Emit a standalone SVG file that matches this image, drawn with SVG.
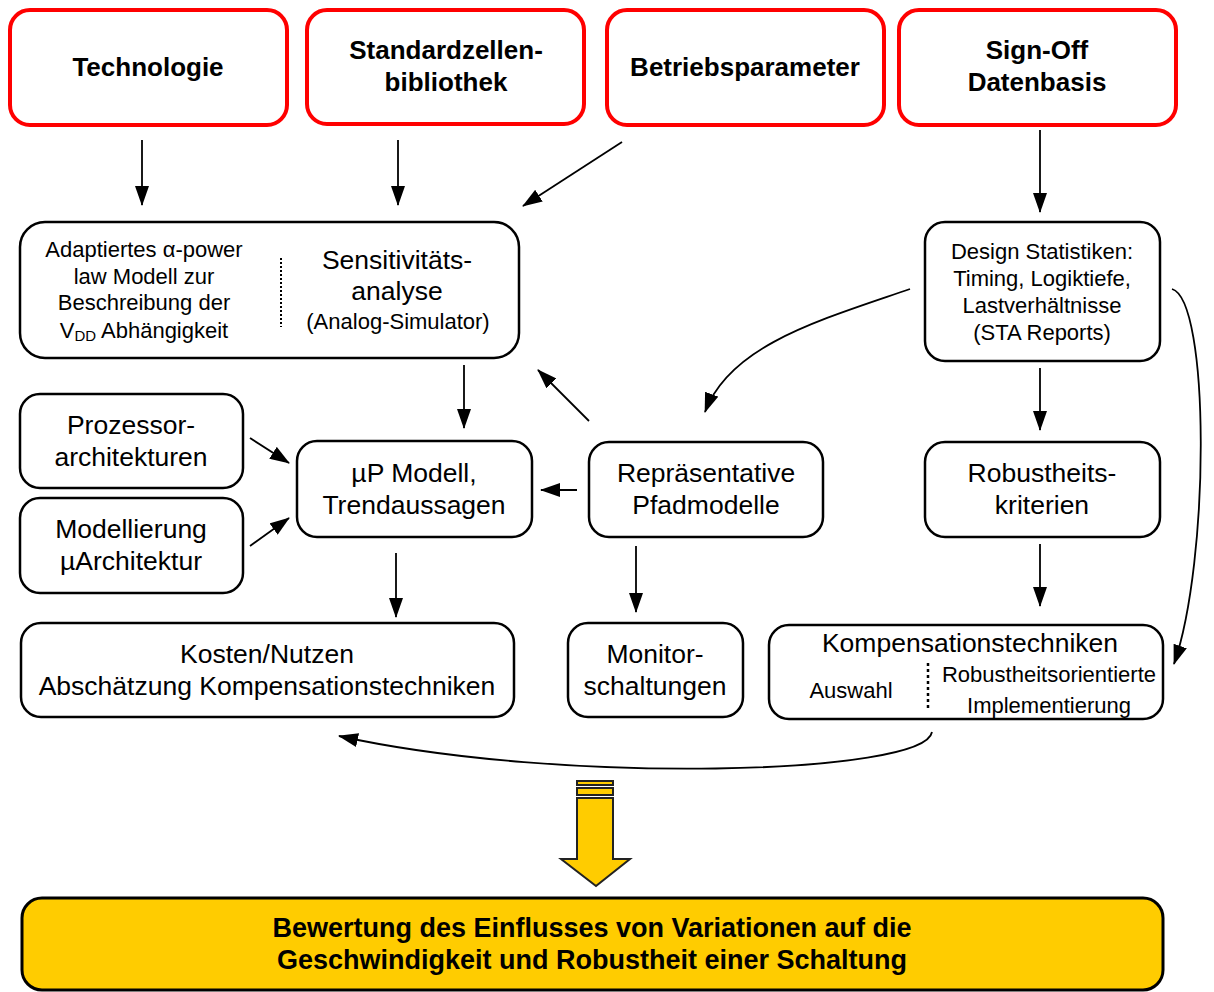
<svg xmlns="http://www.w3.org/2000/svg" width="1214" height="992" viewBox="0 0 1214 992">
<style>
.red{fill:#fff;stroke:#ff0000;stroke-width:4}
.box{fill:#fff;stroke:#000;stroke-width:2.5}
.tb{font-family:"Liberation Sans",Arial,sans-serif;font-weight:bold;font-size:26px;fill:#000;text-anchor:middle}
.t{font-family:"Liberation Sans",Arial,sans-serif;font-size:26.5px;fill:#000;text-anchor:middle}
.ts{font-family:"Liberation Sans",Arial,sans-serif;font-size:22px;fill:#000;text-anchor:middle}
.c{fill:none;stroke:#000;stroke-width:1.8;marker-end:url(#ah)}
.dot{stroke:#000;stroke-width:2;stroke-dasharray:2,2}
</style>
<defs>
<marker id="ah" markerUnits="userSpaceOnUse" markerWidth="20" markerHeight="14" refX="19" refY="7" orient="auto">
<path d="M0,0 L20,7 L0,14 z" fill="#000"/>
</marker>
</defs>
<rect width="1214" height="992" fill="#fff"/>

<g id="technologie"><rect class="red" x="10" y="10" width="277" height="115" rx="20"/><text class="tb" x="148" y="76">Technologie</text></g>
<g id="standardzellen"><rect class="red" x="307" y="10" width="277" height="114" rx="20"/><text class="tb" x="446" y="59">Standardzellen-</text><text class="tb" x="446" y="91">bibliothek</text></g>
<g id="betriebsparameter"><rect class="red" x="607" y="10" width="277" height="115" rx="20"/><text class="tb" x="745" y="76">Betriebsparameter</text></g>
<g id="signoff"><rect class="red" x="899" y="10" width="277" height="115" rx="20"/><text class="tb" x="1037" y="59">Sign-Off</text><text class="tb" x="1037" y="91">Datenbasis</text></g>

<g id="sensitivitaet"><rect class="box" x="20" y="222" width="499" height="136" rx="25"/>
<text class="ts" x="144" y="257">Adaptiertes α-power</text>
<text class="ts" x="144" y="284">law Modell zur</text>
<text class="ts" x="144" y="310">Beschreibung der</text>
<text class="ts" x="144" y="338">V<tspan font-size="15" dy="3">DD</tspan><tspan dy="-3"> Abhängigkeit</tspan></text>
<line class="dot" x1="281" y1="258" x2="281" y2="327"/>
<text class="t" x="397" y="269">Sensitivitäts-</text>
<text class="t" x="397" y="300">analyse</text>
<text class="ts" x="398" y="329">(Analog-Simulator)</text>
</g>

<g id="designstat"><rect class="box" x="925" y="222" width="235" height="139" rx="20"/>
<text class="ts" x="1042" y="259">Design Statistiken:</text>
<text class="ts" x="1042" y="286">Timing, Logiktiefe,</text>
<text class="ts" x="1042" y="313">Lastverhältnisse</text>
<text class="ts" x="1042" y="340">(STA Reports)</text>
</g>

<g id="prozessor"><rect class="box" x="20" y="394" width="223" height="94" rx="20"/><text class="t" x="131" y="434">Prozessor-</text><text class="t" x="131" y="466">architekturen</text></g>
<g id="modellierung"><rect class="box" x="20" y="498" width="223" height="95" rx="20"/><text class="t" x="131" y="538">Modellierung</text><text class="t" x="131" y="570">µArchitektur</text></g>
<g id="upmodell"><rect class="box" x="297" y="441" width="235" height="96" rx="20"/><text class="t" x="414" y="482">µP Modell,</text><text class="t" x="414" y="514">Trendaussagen</text></g>
<g id="pfadmodelle"><rect class="box" x="589" y="442" width="234" height="95" rx="20"/><text class="t" x="706" y="482">Repräsentative</text><text class="t" x="706" y="514">Pfadmodelle</text></g>
<g id="robustheit"><rect class="box" x="925" y="442" width="235" height="95" rx="20"/><text class="t" x="1042" y="482">Robustheits-</text><text class="t" x="1042" y="514">kriterien</text></g>

<g id="kosten"><rect class="box" x="21" y="623" width="493" height="94" rx="20"/><text class="t" x="267" y="663">Kosten/Nutzen</text><text class="t" x="267" y="695">Abschätzung Kompensationstechniken</text></g>
<g id="monitor"><rect class="box" x="568" y="623" width="175" height="94" rx="20"/><text class="t" x="655" y="663">Monitor-</text><text class="t" x="655" y="695">schaltungen</text></g>
<g id="kompensation"><rect class="box" x="769" y="625" width="394" height="94" rx="20"/>
<text class="t" x="970" y="652">Kompensationstechniken</text>
<text class="ts" x="851" y="698">Auswahl</text>
<line class="dot" x1="928" y1="663" x2="928" y2="709" style="stroke-width:2.5;stroke-dasharray:3,3"/>
<text class="ts" x="1049" y="682">Robustheitsorientierte</text>
<text class="ts" x="1049" y="713">Implementierung</text>
</g>

<g id="connectors">
<line class="c" x1="142" y1="140" x2="142" y2="205"/>
<line class="c" x1="398" y1="140" x2="398" y2="205"/>
<line class="c" x1="622" y1="142" x2="523" y2="206"/>
<line class="c" x1="1040" y1="130" x2="1040" y2="212"/>
<line class="c" x1="464" y1="365" x2="464" y2="428"/>
<line class="c" x1="589" y1="421" x2="538" y2="370"/>
<path class="c" d="M910,289 C820,320 730,345 705,412"/>
<line class="c" x1="1040" y1="368" x2="1040" y2="430"/>
<path class="c" d="M1172,289 C1210,300 1210,560 1174,664"/>
<line class="c" x1="250" y1="438" x2="289" y2="463"/>
<line class="c" x1="250" y1="546" x2="289" y2="518"/>
<line class="c" x1="577" y1="490" x2="541" y2="490"/>
<line class="c" x1="396" y1="553" x2="396" y2="617"/>
<line class="c" x1="636" y1="546" x2="636" y2="612"/>
<line class="c" x1="1040" y1="544" x2="1040" y2="606"/>
<path class="c" d="M932,732 C925,775 560,785 339,736"/>
</g>

<g id="bigarrow" fill="#ffcc00" stroke="#222" stroke-width="2">
<rect x="577" y="781" width="36" height="4"/>
<rect x="577" y="788" width="36" height="7"/>
<path d="M577,798 L613,798 L613,859 L630,859 L596,886 L561,859 L577,859 z"/>
</g>

<g id="bewertung"><rect x="22" y="898" width="1141" height="92" rx="20" fill="#ffcc00" stroke="#000" stroke-width="3"/>
<text class="tb" x="592" y="937" style="font-size:27px">Bewertung des Einflusses von Variationen auf die</text>
<text class="tb" x="592" y="969" style="font-size:27px">Geschwindigkeit und Robustheit einer Schaltung</text>
</g>
</svg>
